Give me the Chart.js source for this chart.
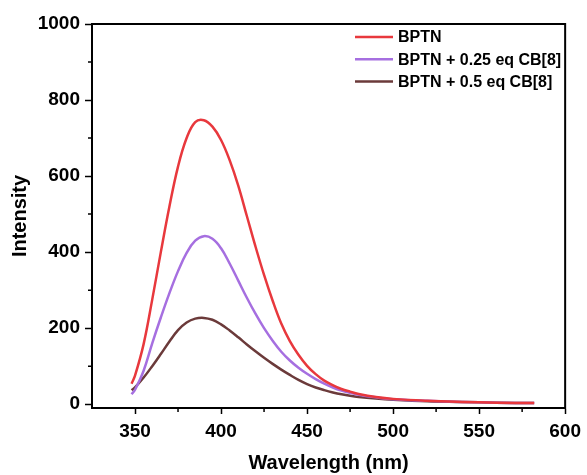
<!DOCTYPE html>
<html>
<head>
<meta charset="utf-8">
<script src="https://cdn.jsdelivr.net/npm/chart.js@4"></script>
<style>
  html, body { margin: 0; padding: 0; background: #fff; }
  #wrap { width: 587px; height: 475px; position: relative; }
</style>
</head>
<body>
<div id="wrap"><canvas id="chart"></canvas></div>
<script>
// wavelengths (nm)
const wavelengths = [348, 350, 355, 360, 365, 370, 375, 380, 385, 390, 395, 400, 405, 410, 415, 420,
    425, 430, 435, 440, 445, 450, 455, 460, 465, 470, 475, 480, 490, 500, 520, 540, 560, 582];

const bptn = [54, 75, 158, 275, 400, 520, 625, 700, 742, 747, 730, 695, 642, 575, 495, 415,
    340, 272, 212, 166, 130, 101, 79, 62, 50, 40, 33, 27, 19, 14, 9, 6, 4, 3];

const bptn025 = [26, 38, 88, 160, 228, 292, 350, 398, 430, 442, 435, 410, 370, 325, 280, 238,
    200, 167, 138, 115, 96, 80, 66, 54, 44, 36, 30, 25, 18, 13, 9, 6, 4, 3];

const bptn05 = [37, 44, 70, 100, 132, 165, 195, 215, 225, 227, 222, 210, 194, 176, 157, 139,
    122, 106, 91, 77, 64, 53, 44, 37, 31, 26, 22, 19, 15, 12, 8, 6, 4, 3];

const seriesNames = ['BPTN', 'BPTN + 0.25 eq CB[8]', 'BPTN + 0.5 eq CB[8]'];
const seriesColors = ['#E8383D', '#A66FE0', '#6B3A3A'];

const xTicks = [350, 400, 450, 500, 550, 600];
const xMinor = [375, 425, 475, 525, 575];
const yTicks = [0, 200, 400, 600, 800, 1000];
const yMinor = [100, 300, 500, 700, 900];

const fontFamily = '"Liberation Sans", Arial, sans-serif';
Chart.defaults.color = '#000';
Chart.defaults.font.family = fontFamily;

function toPoints(values) {
    return values.map((v, i) => ({ x: wavelengths[i], y: v }));
}

// cadre, petites graduations et légende
const framePlugin = {
    id: 'frame',
    afterDraw(chart) {
        const ctx = chart.ctx;
        const a = chart.chartArea;
        const xs = chart.scales.x, ys = chart.scales.y;
        ctx.save();
        ctx.strokeStyle = '#000';
        ctx.lineWidth = 2;
        ctx.beginPath();
        ctx.moveTo(a.left - 1, a.top);
        ctx.lineTo(a.right, a.top);
        ctx.lineTo(a.right, a.bottom + 1);
        ctx.stroke();

        ctx.lineWidth = 1.5;
        ctx.beginPath();
        xMinor.forEach(v => {
            const px = xs.getPixelForValue(v);
            ctx.moveTo(px, a.bottom);
            ctx.lineTo(px, a.bottom + 4);
        });
        yMinor.forEach(v => {
            const py = ys.getPixelForValue(v);
            ctx.moveTo(a.left, py);
            ctx.lineTo(a.left - 4, py);
        });
        ctx.stroke();

        // légende
        ctx.font = 'bold 16px ' + fontFamily;
        ctx.textBaseline = 'middle';
        ctx.textAlign = 'left';
        chart.data.datasets.forEach((ds, i) => {
            const y = 37 + i * 22.3;
            ctx.strokeStyle = ds.borderColor;
            ctx.lineWidth = 2.5;
            ctx.beginPath();
            ctx.moveTo(355, y);
            ctx.lineTo(393, y);
            ctx.stroke();
            ctx.fillStyle = '#000';
            ctx.fillText(ds.label, 398, y + 1);
        });
        ctx.restore();
    }
};

const ctx = document.getElementById('chart').getContext('2d');
new Chart(ctx, {
    type: 'line',
    data: {
        datasets: [bptn, bptn025, bptn05].map((vals, i) => ({
            label: seriesNames[i],
            data: toPoints(vals),
            borderColor: seriesColors[i],
            backgroundColor: seriesColors[i],
            borderWidth: 2.5,
            pointRadius: 0,
            tension: 0.4,
            fill: false
        }))
    },
    options: {
        responsive: true,
        maintainAspectRatio: false,
        animation: false,
        layout: { padding: { top: 24, right: 19, left: 0, bottom: 0 } },
        plugins: {
            legend: { display: false },
            tooltip: { enabled: false }
        },
        scales: {
            x: {
                type: 'linear',
                min: 325,
                max: 600,
                afterBuildTicks: s => { s.ticks = xTicks.map(v => ({ value: v })); },
                afterFit: s => { s.height = 67; },
                grid: { drawOnChartArea: false, color: '#000', tickLength: 6, tickWidth: 1.5 },
                border: { display: true, color: '#000', width: 2 },
                ticks: { font: { size: 19, weight: 'bold' }, padding: 6, maxRotation: 0,
                    callback: v => String(v) },
                title: {
                    display: true,
                    text: 'Wavelength (nm)',
                    font: { size: 20, weight: 'bold' },
                    padding: { top: 0, bottom: 0 }
                }
            },
            y: {
                min: -10,
                max: 1000,
                afterBuildTicks: s => { s.ticks = yTicks.map(v => ({ value: v })); },
                afterFit: s => { s.width = 92; },
                grid: { drawOnChartArea: false, color: '#000', tickLength: 7, tickWidth: 1.5 },
                border: { display: true, color: '#000', width: 2 },
                ticks: { font: { size: 19, weight: 'bold' }, padding: 5,
                    callback: v => String(v) },
                title: {
                    display: true,
                    text: 'Intensity',
                    font: { size: 20, weight: 'bold' },
                    padding: { top: 8, bottom: 0 }
                }
            }
        }
    },
    plugins: [framePlugin]
});
</script>
</body>
</html>
